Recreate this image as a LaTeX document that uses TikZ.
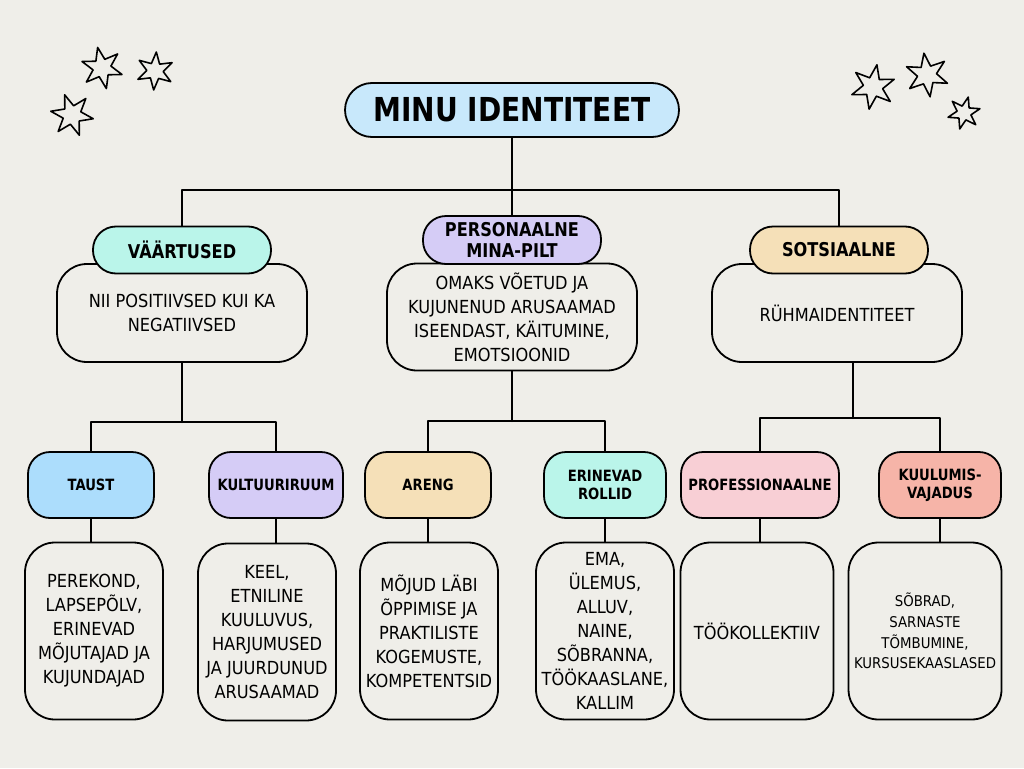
\documentclass[tikz,border=0pt]{standalone}
\usepackage{fontspec}
\setmainfont{DejaVu Sans}[FakeStretch=0.9]
\newfontfamily\headfont{DejaVu Sans}[FakeStretch=0.85]
\usetikzlibrary{shapes.geometric}
\definecolor{paper}{HTML}{EFEEE9}
\definecolor{sky}{HTML}{C8E8FB}
\definecolor{mint}{HTML}{BAF5EA}
\definecolor{lilac}{HTML}{D5CCF6}
\definecolor{sand}{HTML}{F5E0B8}
\definecolor{azure}{HTML}{ACDDFC}
\definecolor{rose}{HTML}{F8CFD5}
\definecolor{salmon}{HTML}{F6B4A8}
\begin{document}
\begin{tikzpicture}[x=1pt, y=-1pt, line join=round, line cap=round,
	link/.style={line width=2pt},
	card/.style={draw, line width=1.8pt, fill=paper, rounded corners=30, inner sep=0pt, align=center,
		font=\fontsize{18}{24}\selectfont},
	pill/.style={draw, line width=1.8pt, rounded corners=#1, inner sep=0pt, align=center},
	head/.style={pill=23, minimum width=178, font=\headfont\bfseries\fontsize{19}{21}\selectfont},
	tag/.style={pill=22, minimum height=66, font=\headfont\bfseries\fontsize{15.5}{18}\selectfont},
	twinkle/.style={draw, line width=1.6pt, fill=paper, star, star points=6, star point ratio=2.3, inner sep=0pt}]
	\fill[paper] (0,0) rectangle (1024,768);
	% stars
	\node[twinkle, minimum size=42, rotate=12] (s1) at (102,68) {};
	\node[twinkle, minimum size=38, rotate=-4] (s2) at (155,71) {};
	\node[twinkle, minimum size=43, rotate=20] (s3) at (72,115) {};
	\node[twinkle, minimum size=45, rotate=-10] (s4) at (873,87) {};
	\node[twinkle, minimum size=44, rotate=8] (s5) at (927,75) {};
	\node[twinkle, minimum size=33, rotate=-15] (s6) at (964,113) {};
	% top
	\node[pill=27, fill=sky, minimum width=334, minimum height=54, font=\headfont\bfseries\fontsize{33}{38}\selectfont] (title) at (512,110) {MINU IDENTITEET};
	% level 1
	\node[card, minimum width=250, minimum height=98] (vaarbox) at (182,313) {NII POSITIIVSED KUI KA\\NEGATIIVSED};
	\node[card, minimum width=250, minimum height=107] (persbox) at (512,317) {OMAKS VÕETUD JA\\KUJUNENUD ARUSAAMAD\\ISEENDAST, KÄITUMINE,\\EMOTSIOONID};
	\node[card, minimum width=250, minimum height=98] (sotsbox) at (837,313) {RÜHMAIDENTITEET};
	\node[head, fill=mint, minimum height=47] (vaar) at (182,250) {VÄÄRTUSED};
	\node[head, fill=lilac, minimum height=48] (pers) at (512,240) {PERSONAALNE\\MINA-PILT};
	\node[head, fill=sand, minimum height=47] (sots) at (839,250) {SOTSIAALNE};
	% level 2
	\node[tag, fill=azure, minimum width=126] (taust) at (91,485) {TAUST};
	\node[tag, fill=lilac, minimum width=134] (kult) at (276,485) {KULTUURIRUUM};
	\node[tag, fill=sand, minimum width=126] (areng) at (428,485) {ARENG};
	\node[tag, fill=mint, minimum width=122] (rollid) at (605,485) {ERINEVAD\\ROLLID};
	\node[tag, fill=rose, minimum width=158] (prof) at (760,485) {PROFESSIONAALNE};
	\node[tag, fill=salmon, minimum width=122] (kuul) at (940,485) {KUULUMIS-\\VAJADUS};
	% level 3
	\node[card, minimum width=138, minimum height=177] (taustbox) at (94,631) {PEREKOND,\\LAPSEPÕLV,\\ERINEVAD\\MÕJUTAJAD JA\\KUJUNDAJAD};
	\node[card, minimum width=138, minimum height=177] (kultbox) at (267,632) {KEEL,\\ETNILINE\\KUULUVUS,\\HARJUMUSED\\JA JUURDUNUD\\ARUSAAMAD};
	\node[card, minimum width=138, minimum height=177] (arengbox) at (429,631) {MÕJUD LÄBI\\ÕPPIMISE JA\\PRAKTILISTE\\KOGEMUSTE,\\KOMPETENTSID};
	\node[card, minimum width=138, minimum height=177] (rollidbox) at (605,631) {EMA,\\ÜLEMUS,\\ALLUV,\\NAINE,\\SÕBRANNA,\\TÖÖKAASLANE,\\KALLIM};
	\node[card, minimum width=153, minimum height=177] (profbox) at (757,631) {TÖÖKOLLEKTIIV};
	\node[card, minimum width=153, minimum height=177, font=\fontsize{14.8}{20.7}\selectfont] (kuulbox) at (925,631) {SÕBRAD,\\SARNASTE\\TÕMBUMINE,\\KURSUSEKAASLASED};
	% connectors
	\coordinate (top) at (512,190);
	\draw[link] (title) -- (top);
	\draw[link] (vaar.north) |- (top) -| (sots.north);
	\draw[link] (top) -- (pers.north);
	\coordinate (jl) at (vaarbox.south |- 0,422);
	\coordinate (jm) at (persbox.south |- 0,421);
	\coordinate (jr) at (853,418);
	\draw[link] (vaarbox.south) -- (jl);
	\draw[link] (taust.north) |- (jl) -| (kult.north);
	\draw[link] (persbox.south) -- (jm);
	\draw[link] (areng.north) |- (jm) -| (rollid.north);
	\draw[link] (jr |- sotsbox.south) -- (jr);
	\draw[link] (prof.north) |- (jr) -| (kuul.north);
	\foreach \p/\c in {taust/taustbox, kult/kultbox, areng/arengbox, rollid/rollidbox, prof/profbox, kuul/kuulbox}
		\draw[link] (\p.south) -- (\p.south |- \c.north);
\end{tikzpicture}
\end{document}
